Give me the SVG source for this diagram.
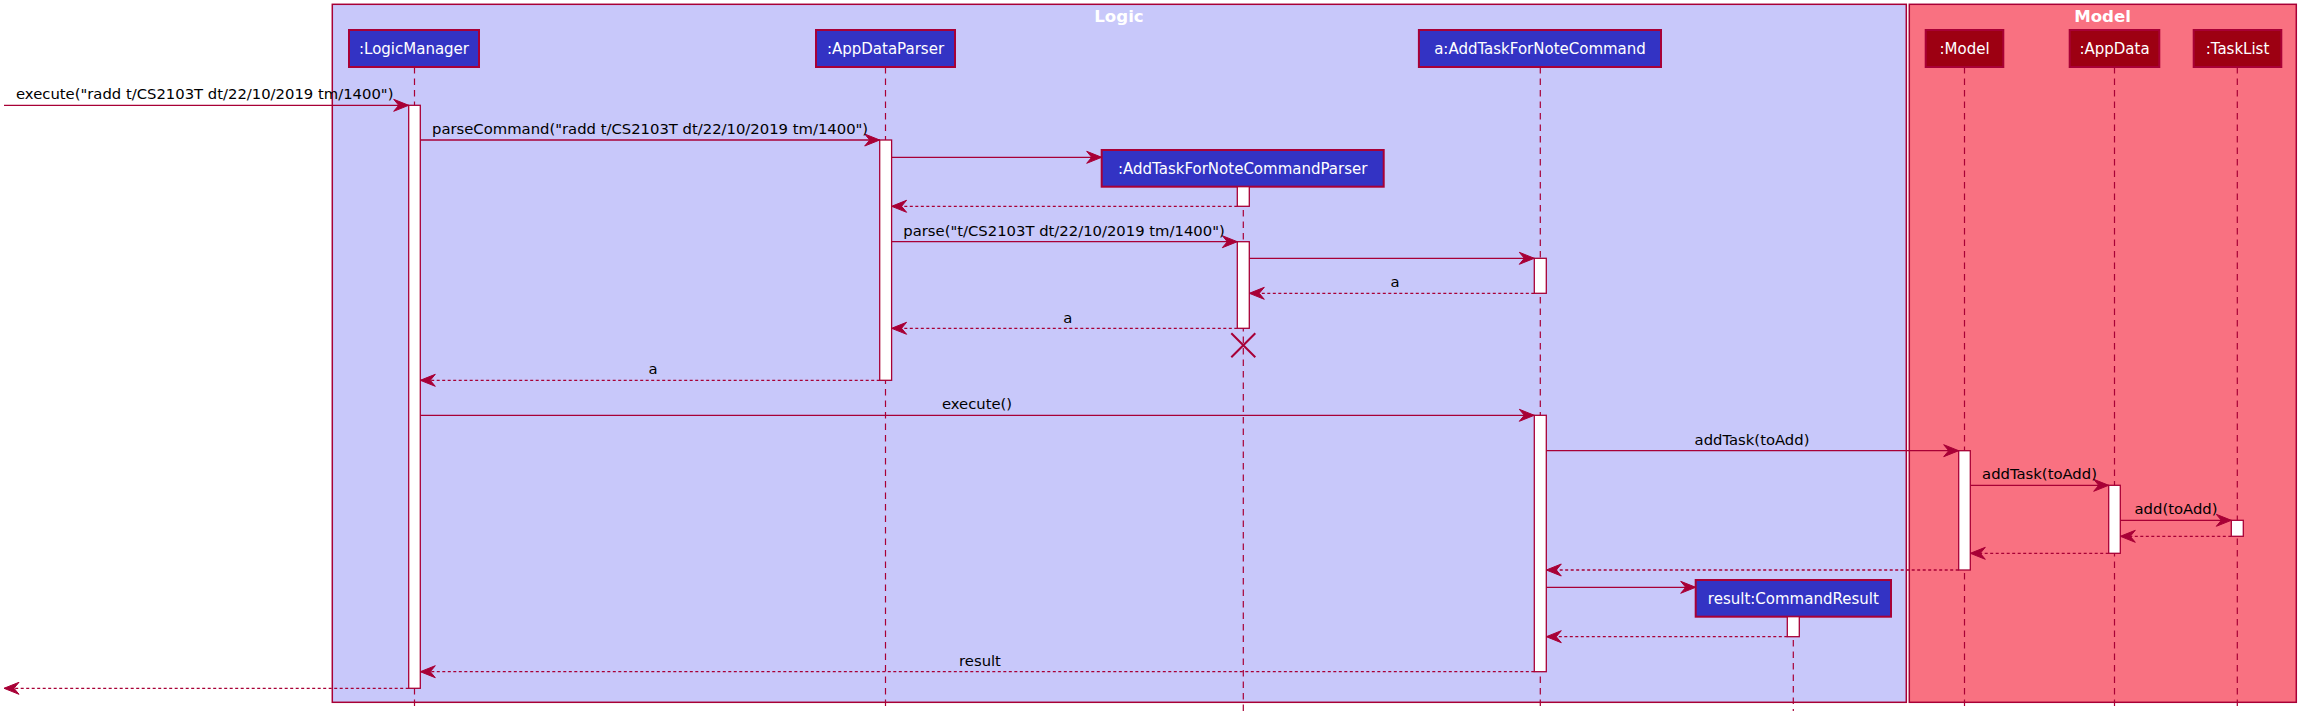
<svg xmlns="http://www.w3.org/2000/svg" width="2308" height="723" viewBox="0 0 2308 723">
<style>
.bg{fill:#FFFFFF}
.logicbox{fill:#C8C8FA;stroke:#A80036;stroke-width:1.5}
.modelbox{fill:#F97181;stroke:#A80036;stroke-width:1.5}
.title{font-family:"DejaVu Sans",sans-serif;font-weight:bold;font-size:16.6px;fill:#FFFFFF;text-anchor:middle}
.plogic{fill:#3333C4;stroke:#A80036;stroke-width:2}
.pmodel{fill:#9D0012;stroke:#A80036;stroke-width:2}
.ptext{font-family:"DejaVu Sans",sans-serif;font-size:15px;fill:#FFFFFF;text-anchor:middle}
.life{stroke:#A80036;stroke-width:1.2;stroke-dasharray:6.5,5;fill:none}
.act{fill:#FFFFFF;stroke:#A80036;stroke-width:1.3}
.msg{stroke:#A80036;stroke-width:1.3;fill:none;marker-end:url(#ah)}
.ret{stroke:#A80036;stroke-width:1.3;fill:none;stroke-dasharray:3,2.5;marker-end:url(#ah)}
.mtext{font-family:"DejaVu Sans",sans-serif;font-size:14.8px;fill:#000000}
.mid{text-anchor:middle}
.x{stroke:#A80036;stroke-width:2;fill:none}
</style>
<defs>
<marker id="ah" markerUnits="userSpaceOnUse" markerWidth="17" markerHeight="14" refX="15" refY="6" orient="auto" overflow="visible">
<path d="M0,0 L15,6 L0,12 L5,6 Z" fill="#A80036" stroke="#A80036" stroke-width="1"/>
</marker>
</defs>
<rect class="bg" x="0" y="0" width="2308" height="723"/>

<g id="box-logic">
<rect class="logicbox" x="332.3" y="4.3" width="1574" height="698"/>
<text class="title" x="1119" y="21.5">Logic</text>
</g>
<g id="box-model">
<rect class="modelbox" x="1909.3" y="4.3" width="387" height="698"/>
<text class="title" x="2102.5" y="21.5">Model</text>
</g>

<g id="lifelines">
<line class="life" x1="414.5" y1="67" x2="414.5" y2="711"/>
<line class="life" x1="885.5" y1="67" x2="885.5" y2="711"/>
<line class="life" x1="1243.3" y1="187" x2="1243.3" y2="711"/>
<line class="life" x1="1540.3" y1="67" x2="1540.3" y2="711"/>
<line class="life" x1="1793.3" y1="617" x2="1793.3" y2="711"/>
<line class="life" x1="1964.5" y1="67" x2="1964.5" y2="711"/>
<line class="life" x1="2114.5" y1="67" x2="2114.5" y2="711"/>
<line class="life" x1="2237.3" y1="67" x2="2237.3" y2="711"/>
</g>

<g id="logicmanager">
<rect class="plogic" x="349" y="30" width="130" height="37"/>
<text class="ptext" x="414" y="54.3">:LogicManager</text>
<rect class="act" x="408.7" y="105.3" width="11.6" height="583"/>
</g>
<g id="appdataparser">
<rect class="plogic" x="816" y="30" width="139" height="37"/>
<text class="ptext" x="885.5" y="54.3">:AppDataParser</text>
<rect class="act" x="879.7" y="140" width="11.9" height="240.3"/>
</g>
<g id="addtaskfornotecommandparser">
<rect class="plogic" x="1101.7" y="150" width="282" height="36.7"/>
<text class="ptext" x="1242.7" y="174.3">:AddTaskForNoteCommandParser</text>
<rect class="act" x="1237.3" y="186.7" width="12" height="19.6"/>
<rect class="act" x="1237.3" y="241.7" width="12" height="86.6"/>
<path class="x" d="M1231.3,333.3 L1255.3,357.3 M1255.3,333.3 L1231.3,357.3"/>
</g>
<g id="addtaskfornotecommand">
<rect class="plogic" x="1418.9" y="30" width="242.1" height="37"/>
<text class="ptext" x="1540" y="54.3">a:AddTaskForNoteCommand</text>
<rect class="act" x="1534.3" y="258.3" width="12" height="35"/>
<rect class="act" x="1534.3" y="415.3" width="12" height="256.4"/>
</g>
<g id="commandresult">
<rect class="plogic" x="1695.7" y="580" width="195.3" height="36.7"/>
<text class="ptext" x="1793.3" y="604.3">result:CommandResult</text>
<rect class="act" x="1787.3" y="616.7" width="12" height="20"/>
</g>
<g id="model">
<rect class="pmodel" x="1925.7" y="30" width="77.6" height="37"/>
<text class="ptext" x="1964.5" y="54.3">:Model</text>
<rect class="act" x="1958.7" y="450.7" width="11.6" height="119.3"/>
</g>
<g id="appdata">
<rect class="pmodel" x="2069.7" y="30" width="89.6" height="37"/>
<text class="ptext" x="2114.5" y="54.3">:AppData</text>
<rect class="act" x="2108.7" y="485.3" width="11.6" height="68"/>
</g>
<g id="tasklist">
<rect class="pmodel" x="2193.7" y="30" width="87.6" height="37"/>
<text class="ptext" x="2237.5" y="54.3">:TaskList</text>
<rect class="act" x="2231.3" y="520.3" width="12" height="16"/>
</g>

<g id="connectors">
<line class="msg" x1="4" y1="105.3" x2="408.7" y2="105.3"/>
<text class="mtext" x="16" y="99.3">execute("radd t/CS2103T dt/22/10/2019 tm/1400")</text>

<line class="msg" x1="420.3" y1="140" x2="879.7" y2="140"/>
<text class="mtext" x="432" y="134.3">parseCommand("radd t/CS2103T dt/22/10/2019 tm/1400")</text>

<line class="msg" x1="891.6" y1="157.3" x2="1101.7" y2="157.3"/>
<line class="ret" x1="1237.3" y1="206.3" x2="891.6" y2="206.3"/>

<line class="msg" x1="891.6" y1="241.7" x2="1237.3" y2="241.7"/>
<text class="mtext" x="903.3" y="235.5">parse("t/CS2103T dt/22/10/2019 tm/1400")</text>

<line class="msg" x1="1249.3" y1="258.3" x2="1534.3" y2="258.3"/>
<line class="ret" x1="1534.3" y1="293.3" x2="1249.3" y2="293.3"/>
<text class="mtext mid" x="1395" y="287.3">a</text>

<line class="ret" x1="1237.3" y1="328.3" x2="891.6" y2="328.3"/>
<text class="mtext mid" x="1067.7" y="322.5">a</text>

<line class="ret" x1="879.7" y1="380.3" x2="420.3" y2="380.3"/>
<text class="mtext mid" x="653" y="374.3">a</text>

<line class="msg" x1="420.3" y1="415.3" x2="1534.3" y2="415.3"/>
<text class="mtext mid" x="977" y="409.3">execute()</text>

<line class="msg" x1="1546.3" y1="450.7" x2="1958.7" y2="450.7"/>
<text class="mtext mid" x="1752" y="444.7">addTask(toAdd)</text>

<line class="msg" x1="1970.3" y1="485.3" x2="2108.7" y2="485.3"/>
<text class="mtext mid" x="2039.5" y="479.3">addTask(toAdd)</text>

<line class="msg" x1="2120.3" y1="520.3" x2="2231.3" y2="520.3"/>
<text class="mtext mid" x="2176" y="514.3">add(toAdd)</text>

<line class="ret" x1="2231.3" y1="536.3" x2="2120.3" y2="536.3"/>
<line class="ret" x1="2108.7" y1="553.3" x2="1970.3" y2="553.3"/>
<line class="ret" x1="1958.7" y1="570" x2="1546.3" y2="570"/>

<line class="msg" x1="1546.3" y1="587.3" x2="1695.7" y2="587.3"/>
<line class="ret" x1="1787.3" y1="636.7" x2="1546.3" y2="636.7"/>

<line class="ret" x1="1534.3" y1="671.7" x2="420.3" y2="671.7"/>
<text class="mtext mid" x="980" y="665.7">result</text>

<line class="ret" x1="408.7" y1="688.3" x2="4" y2="688.3"/>
</g>
</svg>
